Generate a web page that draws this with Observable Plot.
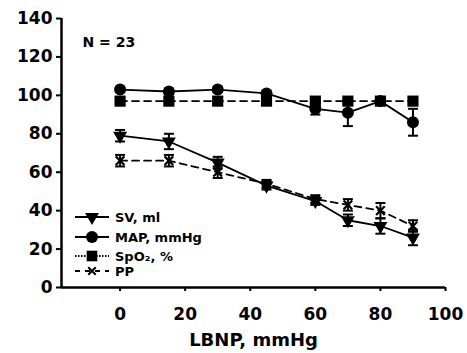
<!DOCTYPE html>
<html>
<head>
<meta charset="utf-8">
<script src="https://cdn.jsdelivr.net/npm/d3@7"></script>
<script src="https://cdn.jsdelivr.net/npm/@observablehq/plot@0.6"></script>
<style>
  html, body { margin: 0; padding: 0; background: #fff; }
  #chart { width: 467px; height: 353px; }
</style>
</head>
<body>
<div id="chart"></div>
<script>
// ---- data ----
const lbnp    = [0, 15, 30, 45, 60, 70, 80, 90];
const sv      = [79, 76, 65, 53, 45, 35, 32, 26];
const svErr   = [3, 4, 3, 2, 2, 3, 4, 4];
const map     = [103, 102, 103, 101, 93, 91, 97, 86];
const mapErr  = [1, 1, 1, 1, 3, 7, 1, 7];
const spo2    = [97, 97, 97, 97, 97, 97, 97, 97];
const spo2Err = [1, 1, 1, 1, 1, 1, 1, 1];
const pp      = [66, 66, 60, 54, 46, 43, 40, 32];
const ppErr   = [3, 3, 3, 2, 2, 3, 4, 3];
const xTicks  = [0, 20, 40, 60, 80, 100];
const yTicks  = [0, 20, 40, 60, 80, 100, 120, 140];
const seriesNames = ["SV, ml", "MAP, mmHg", "SpO\u2082, %", "PP"];

const FONT = "DejaVu Sans, Liberation Sans, Arial, sans-serif";

function rows(name, vals, errs) {
  return lbnp.map((x, i) => ({series: name, x, y: vals[i], lo: vals[i] - errs[i], hi: vals[i] + errs[i]}));
}
const dSV = rows("SV", sv, svErr);
const dMAP = rows("MAP", map, mapErr);
const dSpO2 = rows("SpO2", spo2, spo2Err);
const dPP = rows("PP", pp, ppErr);

// horizontal cap symbol for error bars
const cap = {
  draw(ctx, size) {
    const w = Math.sqrt(size / Math.PI);
    ctx.moveTo(-w, 0);
    ctx.lineTo(w, 0);
  }
};

function errMarks(data) {
  return [
    Plot.ruleX(data, {x: "x", y1: "lo", y2: "hi", stroke: "black", strokeWidth: 2}),
    Plot.dot(data, {x: "x", y: "lo", symbol: cap, r: 5, stroke: "black", strokeWidth: 2, fill: "none"}),
    Plot.dot(data, {x: "x", y: "hi", symbol: cap, r: 5, stroke: "black", strokeWidth: 2, fill: "none"})
  ];
}

const chart = Plot.plot({
  width: 467,
  height: 353,
  marginLeft: 61,
  marginRight: 22,
  marginTop: 18,
  marginBottom: 66,
  style: {fontFamily: FONT, fontWeight: "bold", background: "white", overflow: "visible"},
  x: {domain: [-18, 100]},
  y: {domain: [0, 140]},
  marks: [
    Plot.axisY({ticks: yTicks, tickSize: 5, tickPadding: 4, fontSize: 17, fontWeight: "bold", strokeWidth: 2, label: null}),
    Plot.axisX({ticks: xTicks, tickSize: 4, tickPadding: 16, fontSize: 17, fontWeight: "bold", strokeWidth: 2, label: null}),
    Plot.ruleY([0], {stroke: "black", strokeWidth: 2.5}),
    Plot.ruleX([-18], {stroke: "black", strokeWidth: 2.5}),
    // lines
    Plot.line(dPP, {x: "x", y: "y", stroke: "black", strokeWidth: 1.8, strokeDasharray: "7,5"}),
    Plot.line(dSpO2, {x: "x", y: "y", stroke: "black", strokeWidth: 1.8, strokeDasharray: "7,5"}),
    Plot.line(dMAP, {x: "x", y: "y", stroke: "black", strokeWidth: 1.8}),
    Plot.line(dSV, {x: "x", y: "y", stroke: "black", strokeWidth: 1.8}),
    // error bars
    ...errMarks(dPP),
    ...errMarks(dSpO2),
    ...errMarks(dMAP),
    ...errMarks(dSV),
    // markers
    Plot.dot(dPP, {x: "x", y: "y", symbol: "times", r: 4, stroke: "black", strokeWidth: 2.2}),
    Plot.dot(dSpO2, {x: "x", y: "y", symbol: "square", r: 6.3, fill: "black"}),
    Plot.dot(dMAP, {x: "x", y: "y", symbol: "circle", r: 6, fill: "black"}),
    Plot.dot(dSV, {x: "x", y: "y", symbol: "triangle", rotate: 180, r: 5.2, fill: "black"}),
    // annotation and axis label
    Plot.text(["N = 23"], {frameAnchor: "top-left", dx: 21, dy: 24, fontSize: 14, fontWeight: "bold", textAnchor: "start", lineAnchor: "middle", fill: "black"}),
    Plot.text(["LBNP, mmHg"], {frameAnchor: "bottom", dy: 53, fontSize: 18, fontWeight: "bold", lineAnchor: "middle", fill: "black"})
  ]
});

document.getElementById("chart").appendChild(chart);

// ---- legend (inside the plot, lower left) ----
const svg = d3.select(chart);
const leg = svg.append("g")
  .attr("font-family", FONT).attr("font-weight", "bold").attr("font-size", 13)
  .attr("text-anchor", "start");
const legendRows = [
  {name: seriesNames[0], dash: null, sym: d3.symbolTriangle, size: Math.PI * 5.2 * 5.2, rot: 180, fill: "black", stroke: "none"},
  {name: seriesNames[1], dash: null, sym: d3.symbolCircle, size: Math.PI * 6 * 6, rot: 0, fill: "black", stroke: "none"},
  {name: seriesNames[2], dash: "1.5,1.5", sym: d3.symbolSquare, size: Math.PI * 6 * 6, rot: 0, fill: "black", stroke: "none"},
  {name: seriesNames[3], dash: "5,5", sym: d3.symbolTimes, size: Math.PI * 3.5 * 3.5, rot: 0, fill: "none", stroke: "black"}
];
const rowY = [217, 237, 256, 271];
legendRows.forEach((r, i) => {
  const y = rowY[i];
  leg.append("line").attr("x1", 75).attr("x2", 109).attr("y1", y).attr("y2", y)
    .attr("stroke", "black").attr("stroke-width", 1.8)
    .attr("stroke-dasharray", r.dash);
  leg.append("path").attr("d", d3.symbol(r.sym, r.size)())
    .attr("transform", `translate(92,${y}) rotate(${r.rot})`)
    .attr("fill", r.fill).attr("stroke", r.stroke).attr("stroke-width", 2);
  leg.append("text").attr("x", 115).attr("y", y).attr("dy", "0.35em")
    .attr("text-anchor", "start").attr("fill", "black").text(r.name);
});
</script>
</body>
</html>
